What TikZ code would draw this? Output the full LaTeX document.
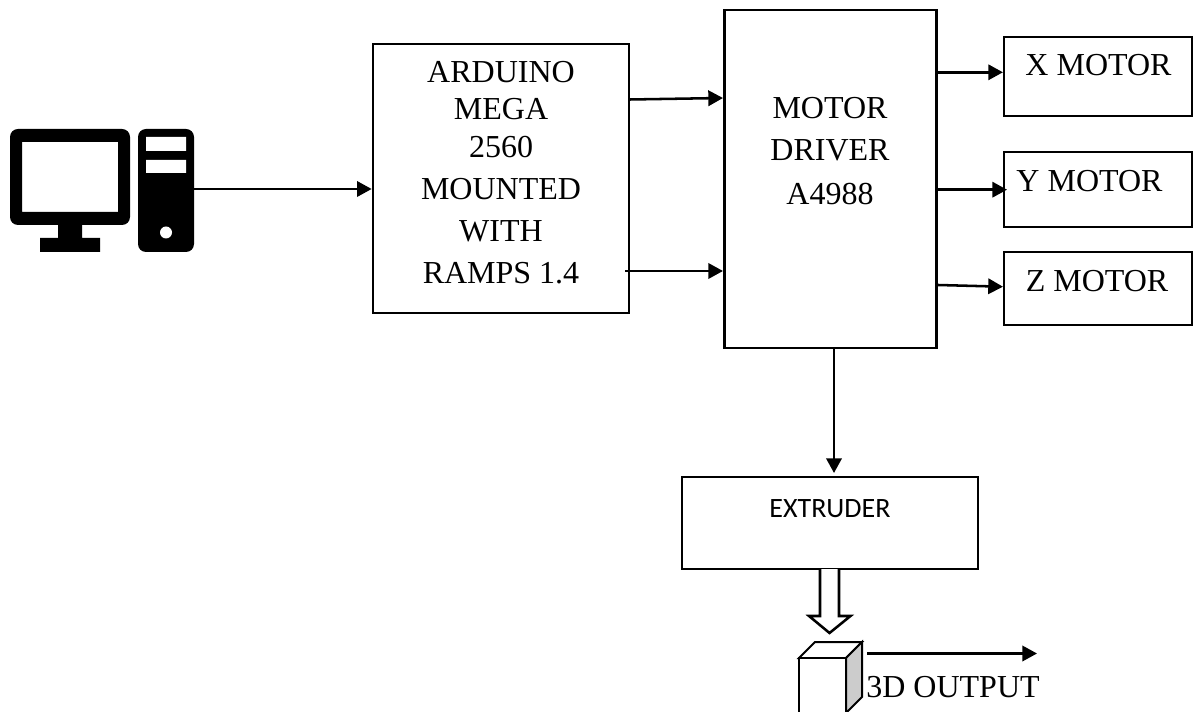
\documentclass[tikz,border=0pt]{standalone}
\usepackage{fontspec}
\setmainfont{Liberation Serif}
\newfontfamily\calib{Carlito}
\usetikzlibrary{arrows.meta}
\tikzset{
  block/.style={draw=black,line width=2pt,fill=white,rectangle,inner sep=0pt},
  motorbox/.style={block,line width=1.6pt},
  lbl/.style={font=\fontsize{24}{24}\selectfont,inner sep=0pt,anchor=base},
  conn/.style={draw=black,line width=1.9pt,-{Triangle[length=11pt,width=11.5pt]}},
  solid fill/.style={fill=black,draw=none},
  hollow/.style={draw=black,line width=1.9pt,fill=white,line join=miter},
  cube/.style={draw=black,line width=1.5pt,line join=miter}
}
\begin{document}
\begin{tikzpicture}[x=0.75pt,y=-0.75pt]
\clip (0,0) rectangle (1195,712);
% computer icon
\path[solid fill,rounded corners=6pt,even odd rule] (10,129) rectangle (130,225) (22,142) [sharp corners] rectangle (118,212);
\path[solid fill] (58,220) rectangle (82,240) (40,238) rectangle (100,252);
\node[solid fill,rectangle,rounded corners=6pt,minimum width=42pt,minimum height=92.25pt,inner sep=0pt] (pc) at (166,190.5) {};
\path[fill=white] (146,137) rectangle (186,151) (146,160) rectangle (186,173);
\path[fill=white] (166,232.5) circle[radius=6];
% blocks
\node[block,minimum width=192pt,minimum height=201.75pt] (ard) at (501,178.5) {};
\node[block,minimum width=159.25pt,minimum height=253.5pt] (drv) at (830.5,179) {};
\node[motorbox,minimum width=141pt,minimum height=59.25pt] (xm) at (1098,76.5) {};
\node[motorbox,minimum width=141pt,minimum height=56.25pt] (ym) at (1098,189.5) {};
\node[motorbox,minimum width=141pt,minimum height=55pt] (zm) at (1098,288.3) {};
\node[block,minimum width=222pt,minimum height=69pt] (ext) at (830,523) {};
% texts
\node[lbl] (t1) at (501,83) {ARDUINO};
\node[lbl] (t2) at (501,120) {MEGA};
\node[lbl] (t3) at (501,157.5) {2560};
\node[lbl] (t4) at (501,200) {MOUNTED};
\node[lbl] (t5) at (501,242) {WITH};
\node[lbl] (t6) at (501,284) {RAMPS 1.4};
\node[lbl] (t7) at (830,119) {MOTOR};
\node[lbl] (t8) at (830,160.5) {DRIVER};
\node[lbl] (t9) at (830,205) {A4988};
\node[lbl] (t10) at (1098.5,76) {X MOTOR};
\node[lbl] (t11) at (1089.5,192) {Y MOTOR};
\node[lbl] (t12) at (1097,292) {Z MOTOR};
\node[inner sep=0pt,anchor=base,font=\calib\fontsize{21}{21}\selectfont] (t13) at (830,517) {EXTRUDER};
\node[lbl] (t14) at (953,697) {3D OUTPUT};
% connectors
\coordinate (a1) at (630,99.5);
\coordinate (a2) at (625,271);
\coordinate (d1) at (938,72.3);
\coordinate (d2) at (938,189.7);
\coordinate (d3) at (938,285);
\coordinate (y3) at (1007,189.7);
\coordinate (outa) at (867,653.5);
\coordinate (outb) at (1037,653.5);
\draw[conn] (pc.east |- 0,189) -- (ard.west |- 0,189);
\draw[conn] (a1) -- (drv.west |- 0,98);
\draw[conn] (a2) -- (drv.west |- 0,271);
\draw[conn] (d1) -- (xm.west |- 0,72.3);
\draw[conn] (d2) -- (y3);
\draw[conn] (d3) -- (zm.west |- 0,286.7);
\draw[conn,shorten >=2pt] (drv.south -| 834,0) -- (ext.north -| 834,0);
\draw[conn] (outa) -- (outb);
% hollow arrow
\draw[hollow] (820,569) -- (820,616) -- (809,616) -- (829.5,633) -- (850.5,616) -- (839,616) -- (839,569);
% 3D part
\draw[cube,fill=white] (799,658) -- (815,642) -- (862,642) -- (846,658) -- cycle;
\draw[cube,fill=black!20] (846,658) -- (862,642) -- (862,697) -- (846,713) -- cycle;
\draw[cube,fill=white] (799,658) rectangle (846,720);
\end{tikzpicture}
\end{document}
